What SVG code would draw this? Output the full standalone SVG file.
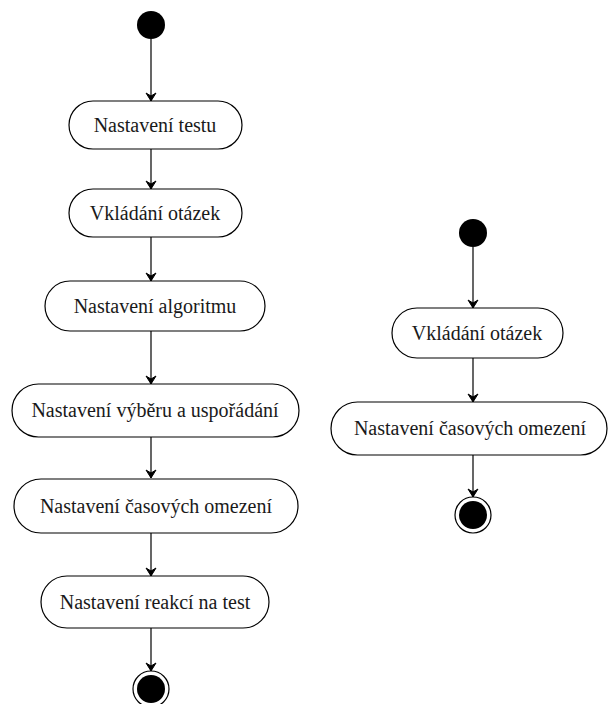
<svg xmlns="http://www.w3.org/2000/svg" width="608" height="704" viewBox="0 0 608 704">
<style>
.act{fill:#fff;stroke:#000;stroke-width:1.2}
.lbl{font-family:"Liberation Serif","Times New Roman",serif;font-size:20px;fill:#1a1a1a;text-anchor:middle}
.start{fill:#000}
.endo{fill:#fff;stroke:#000;stroke-width:1.2}
.endi{fill:#000}
.con{stroke:#000;stroke-width:1.2;fill:none;marker-end:url(#arr)}
</style>
<defs>
<marker id="arr" markerWidth="12" markerHeight="12" refX="10" refY="6" orient="auto" markerUnits="userSpaceOnUse">
<path d="M2,1 L10,6 L2,11 L5,6 Z" fill="#000" stroke="#000" stroke-width="1"/>
</marker>
</defs>
<g id="connectors">
<line class="con" x1="151" y1="39" x2="151" y2="101"/>
<line class="con" x1="151" y1="149" x2="151" y2="189"/>
<line class="con" x1="151" y1="237" x2="151" y2="281"/>
<line class="con" x1="151" y1="331" x2="151" y2="384"/>
<line class="con" x1="151" y1="437" x2="151" y2="478"/>
<line class="con" x1="151" y1="533" x2="151" y2="576"/>
<line class="con" x1="151" y1="628" x2="151" y2="671"/>
<line class="con" x1="473" y1="247" x2="473" y2="308"/>
<line class="con" x1="473" y1="358" x2="473" y2="402"/>
<line class="con" x1="473" y1="455" x2="473" y2="497"/>
</g>
<g id="start1"><circle class="start" cx="151" cy="25" r="14"/></g>
<g id="n1"><rect class="act" x="69" y="101" width="173" height="48" rx="24"/><text class="lbl" x="155" y="132">Nastavení testu</text></g>
<g id="n2"><rect class="act" x="69" y="189" width="173" height="48" rx="24"/><text class="lbl" x="155" y="220">Vkládání otázek</text></g>
<g id="n3"><rect class="act" x="45" y="281" width="220" height="50" rx="25"/><text class="lbl" x="155" y="313">Nastavení algoritmu</text></g>
<g id="n4"><rect class="act" x="12" y="384" width="287" height="53" rx="26.5"/><text class="lbl" x="155" y="417">Nastavení výběru a uspořádání</text></g>
<g id="n5"><rect class="act" x="14" y="479" width="284" height="54" rx="27"/><text class="lbl" x="156" y="513">Nastavení časových omezení</text></g>
<g id="n6"><rect class="act" x="41" y="576" width="228" height="52" rx="26"/><text class="lbl" x="155" y="609">Nastavení reakcí na test</text></g>
<g id="end1"><circle class="endo" cx="151" cy="689" r="18"/><circle class="endi" cx="151" cy="689" r="14"/></g>
<g id="start2"><circle class="start" cx="473" cy="233" r="14"/></g>
<g id="m1"><rect class="act" x="392" y="308" width="171" height="50" rx="25"/><text class="lbl" x="477" y="340">Vkládání otázek</text></g>
<g id="m2"><rect class="act" x="331" y="402" width="276" height="53" rx="26.5"/><text class="lbl" x="470" y="435">Nastavení časových omezení</text></g>
<g id="end2"><circle class="endo" cx="473" cy="515" r="18"/><circle class="endi" cx="473" cy="515" r="14"/></g>
</svg>
